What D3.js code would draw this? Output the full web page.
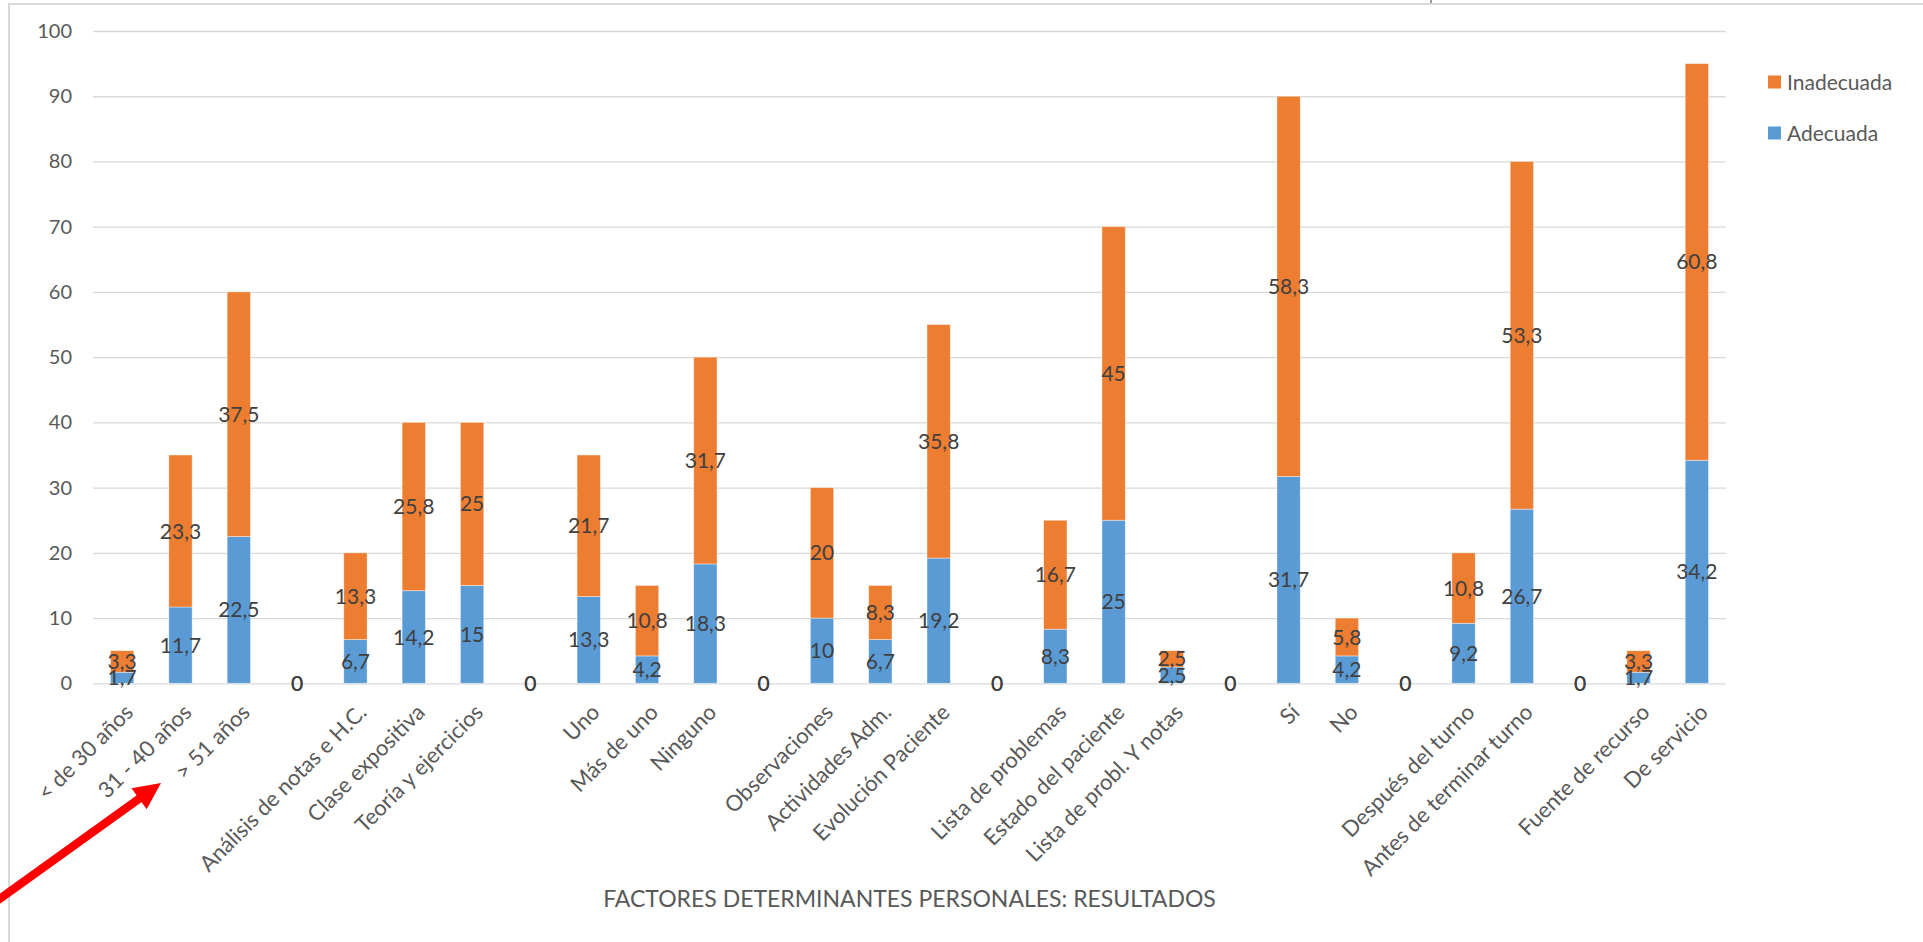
<!DOCTYPE html>
<html>
<head>
<meta charset="utf-8">
<script src="https://cdn.jsdelivr.net/npm/d3@7"></script>
<style>
  html, body { margin: 0; padding: 0; background: #ffffff; }
  svg { display: block; }
  text { font-family: Lato, "Open Sans", sans-serif; }
</style>
</head>
<body>
<svg id="chart" width="1923" height="942"></svg>
<script>
// ---- DATA ----
const categories = [
  "< de 30 años", "31 - 40 años", "> 51 años", "",
  "Análisis de notas e H.C.", "Clase expositiva", "Teoría y ejercicios", "",
  "Uno", "Más de uno", "Ninguno", "",
  "Observaciones", "Actividades Adm.", "Evolución Paciente", "",
  "Lista de problemas", "Estado del paciente", "Lista de probl. Y notas", "",
  "Sí", "No", "",
  "Después del turno", "Antes de terminar turno", "",
  "Fuente de recurso", "De servicio"
];
const adecuada = [
  1.7, 11.7, 22.5, 0,
  6.7, 14.2, 15, 0,
  13.3, 4.2, 18.3, 0,
  10, 6.7, 19.2, 0,
  8.3, 25, 2.5, 0,
  31.7, 4.2, 0,
  9.2, 26.7, 0,
  1.7, 34.2
];
const inadecuada = [
  3.3, 23.3, 37.5, 0,
  13.3, 25.8, 25, 0,
  21.7, 10.8, 31.7, 0,
  20, 8.3, 35.8, 0,
  16.7, 45, 2.5, 0,
  58.3, 5.8, 0,
  10.8, 53.3, 0,
  3.3, 60.8
];
const seriesNames = ["Adecuada", "Inadecuada"];
const legendOrder = ["Inadecuada", "Adecuada"];
const yTicks = [0, 10, 20, 30, 40, 50, 60, 70, 80, 90, 100];
const xTitle = "FACTORES DETERMINANTES PERSONALES: RESULTADOS";

// ---- LAYOUT ----
const svg = d3.select("#chart");
const W = 1923, H = 942;
const plot = { left: 93, right: 1726, top: 31, bottom: 683.3 };
const colors = { "Adecuada": "#5B9BD5", "Inadecuada": "#ED7D31" };

const table = categories.map((c, i) => ({ idx: i, cat: c, Adecuada: adecuada[i], Inadecuada: inadecuada[i] }));
const stacked = d3.stack().keys(seriesNames)(table);

const x = d3.scaleBand()
  .domain(d3.range(categories.length))
  .range([plot.left, plot.right])
  .paddingInner(0.6)
  .paddingOuter(0.3);
const y = d3.scaleLinear().domain([0, 100]).range([plot.bottom, plot.top]);

const fmt = v => String(v).replace(".", ",");

// chart border
svg.append("rect")
  .attr("x", 9).attr("y", 4)
  .attr("width", W + 20).attr("height", H + 20)
  .attr("fill", "none").attr("stroke", "#d9d9d9").attr("stroke-width", 2);

// tiny cut-off fragment at top
svg.append("line").attr("x1", 1431).attr("x2", 1431).attr("y1", 0).attr("y2", 3)
  .attr("stroke", "#595959").attr("stroke-width", 1.2);

// gridlines + y axis labels
const yAxis = d3.axisLeft(y).tickValues(yTicks).tickSize(-(plot.right - plot.left)).tickPadding(21).tickFormat(d => d);
const gy = svg.append("g").attr("transform", `translate(${plot.left},0)`).call(yAxis);
gy.select(".domain").remove();
gy.selectAll(".tick line").attr("stroke", "#d9d9d9").attr("stroke-width", 1.3);
gy.selectAll(".tick text").attr("fill", "#595959").style("font-size", "20px").style("font-family", "Lato, sans-serif");

// bars
const gBars = svg.append("g");
stacked.forEach(s => {
  gBars.selectAll(null).data(s).enter().append("rect")
    .attr("x", d => x(d.data.idx))
    .attr("width", x.bandwidth())
    .attr("y", d => y(d[1]))
    .attr("height", d => y(d[0]) - y(d[1]))
    .attr("fill", colors[s.key])
    .attr("stroke", "#ffffff").attr("stroke-opacity", 0.5).attr("stroke-width", 0.8);
});

// data labels
stacked.forEach(s => {
  svg.append("g").selectAll(null).data(s).enter().append("text")
    .attr("x", d => x(d.data.idx) + x.bandwidth() / 2)
    .attr("y", d => y((d[0] + d[1]) / 2))
    .attr("dy", "0.36em")
    .attr("text-anchor", "middle")
    .attr("fill", "#404040")
    .style("font-size", "21px")
    .text(d => fmt(d.data[s.key]));
});

// x axis labels
const xAxis = d3.axisBottom(x).tickSize(0).tickFormat(i => categories[i]);
const gx = svg.append("g").attr("transform", `translate(0,${plot.bottom})`).call(xAxis);
gx.select(".domain").remove();
gx.selectAll(".tick text")
  .attr("fill", "#595959")
  .style("font-size", "22px")
  .style("font-family", "Lato, sans-serif")
  .attr("text-anchor", "end")
  .attr("x", 0).attr("y", 0).attr("dy", "0.35em")
  .attr("transform", "translate(7,25) rotate(-45)");

// x axis title
svg.append("text")
  .attr("x", (plot.left + plot.right) / 2)
  .attr("y", 907)
  .attr("text-anchor", "middle")
  .attr("fill", "#595959")
  .style("font-size", "23px")
  .text(xTitle);

// legend
const lg = svg.append("g").attr("transform", "translate(1768,0)");
legendOrder.forEach((name, i) => {
  const cy = 82 + i * 51;
  lg.append("rect").attr("x", 0).attr("y", cy - 6.5).attr("width", 13).attr("height", 13).attr("fill", colors[name]);
  lg.append("text").attr("x", 19).attr("y", cy).attr("dy", "0.36em")
    .attr("fill", "#595959").style("font-size", "21px").text(name);
});

// red annotation arrow
const tip = [161, 783], tail = [-20, 913];
const dx = tip[0] - tail[0], dy = tip[1] - tail[1];
const len = Math.hypot(dx, dy), ux = dx / len, uy = dy / len;
const headLen = 27, headHalf = 13;
const bx = tip[0] - ux * headLen, by = tip[1] - uy * headLen;
svg.append("line")
  .attr("x1", tail[0]).attr("y1", tail[1])
  .attr("x2", bx + ux * 2).attr("y2", by + uy * 2)
  .attr("stroke", "#FF0000").attr("stroke-width", 8.5);
svg.append("path")
  .attr("d", `M${tip[0]},${tip[1]} L${bx - uy * headHalf},${by + ux * headHalf} L${bx + uy * headHalf},${by - ux * headHalf} Z`)
  .attr("fill", "#FF0000");
</script>
</body>
</html>
